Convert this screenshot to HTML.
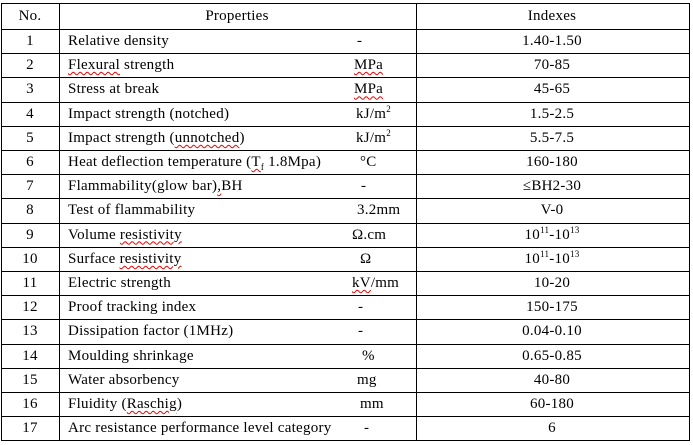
<!DOCTYPE html>
<html><head><style>
body{margin:0;background:#fff;width:693px;height:445px;position:relative;overflow:hidden;font-family:"Liberation Serif",serif;font-size:15px;letter-spacing:0.25px;color:#000}
.h{position:absolute;height:1px;background:#000;left:1px;width:689px}
.v{position:absolute;width:1px;background:#000;top:3px;height:438px}
.t{position:absolute;white-space:nowrap;line-height:16px}
.c{transform:translateX(-50%)}
.w{text-decoration:underline wavy #e00;text-decoration-thickness:1px;text-underline-offset:2px}
sup{font-size:9px;line-height:0}
sub{font-size:9px;line-height:0}
</style></head><body>
<div class="h" style="top:3px"></div>
<div class="h" style="top:29px"></div>
<div class="h" style="top:53px"></div><div class="h" style="top:77px"></div><div class="h" style="top:102px"></div><div class="h" style="top:126px"></div><div class="h" style="top:150px"></div><div class="h" style="top:174px"></div><div class="h" style="top:198px"></div><div class="h" style="top:223px"></div><div class="h" style="top:247px"></div><div class="h" style="top:271px"></div><div class="h" style="top:295px"></div><div class="h" style="top:319px"></div><div class="h" style="top:344px"></div><div class="h" style="top:368px"></div><div class="h" style="top:392px"></div><div class="h" style="top:416px"></div><div class="h" style="top:440px"></div>
<div class="v" style="left:1px"></div><div class="v" style="left:59px"></div><div class="v" style="left:416px"></div><div class="v" style="left:689px"></div>
<div class="t c" style="left:30px;top:8px">No.</div>
<div class="t c" style="left:237px;top:8px">Properties</div>
<div class="t c" style="left:552px;top:8px">Indexes</div>
<div id="rows"></div>
<script>
var d=[
["Relative density","-",357,"1.40-1.50"],
["<span class=w>Flexural</span> strength","<span class=w>MPa</span>",354,"70-85"],
["Stress at break","<span class=w>MPa</span>",354,"45-65"],
["Impact strength (notched)","kJ/m<sup>2</sup>",356,"1.5-2.5"],
["Impact strength (<span class=w>unnotched</span>)","kJ/m<sup>2</sup>",356,"5.5-7.5"],
["Heat deflection temperature (<span class=w>T</span><sub>f</sub> 1.8Mpa)","°C",360,"160-180"],
["Flammability(glow bar)<span class=w>,</span>BH","-",361,"≤BH2-30"],
["Test of flammability","3.2mm",357,"V-0"],
["Volume <span class=w>resistivity</span>","Ω.cm",352,"10<sup>11</sup>-10<sup>13</sup>"],
["Surface <span class=w>resistivity</span>","Ω",360,"10<sup>11</sup>-10<sup>13</sup>"],
["Electric strength","<span class=w>kV</span>/mm",352,"10-20"],
["Proof tracking index","-",358,"150-175"],
["Dissipation factor (1MHz)","-",358,"0.04-0.10"],
["Moulding shrinkage","%",362,"0.65-0.85"],
["Water absorbency","mg",357,"40-80"],
["Fluidity (<span class=w>Raschig</span>)","mm",360,"60-180"],
["Arc resistance performance level category","-",364,"6"]];
var h="";
for(var i=0;i<d.length;i++){var y=33+i*24.2;
h+='<div class="t c" style="left:30px;top:'+y+'px">'+(i+1)+'</div>';
h+='<div class="t" style="left:68px;top:'+y+'px">'+d[i][0]+'</div>';
h+='<div class="t" style="left:'+d[i][2]+'px;top:'+y+'px">'+d[i][1]+'</div>';
h+='<div class="t c" style="left:552px;top:'+y+'px">'+d[i][3]+'</div>';}
document.getElementById("rows").innerHTML=h;
</script>
</body></html>
